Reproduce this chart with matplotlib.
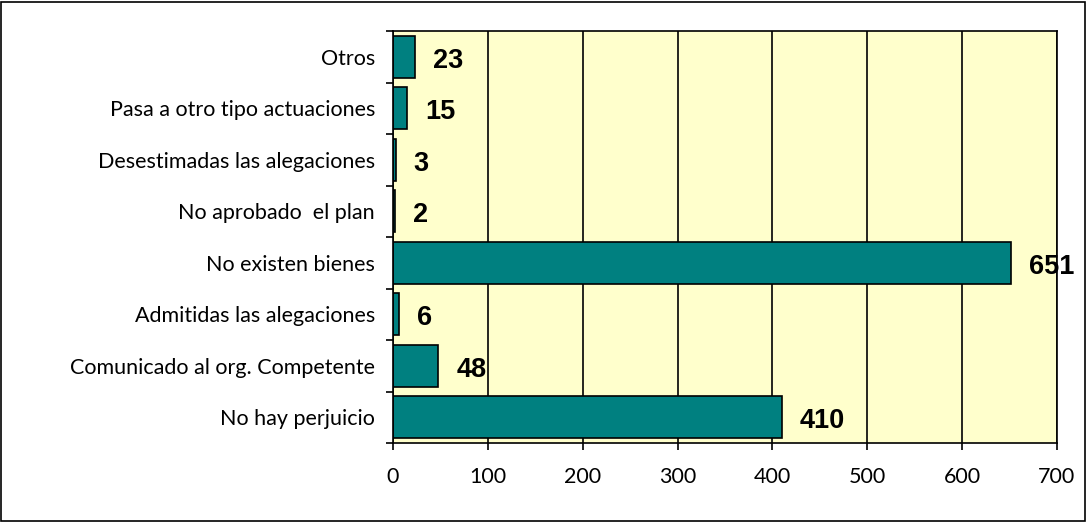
import matplotlib.pyplot as plt
import numpy as np

categories = ["No hay perjuicio", "Comunicado al org. Competente", "Admitidas las alegaciones",
              "No existen bienes", "No aprobado  el plan", "Desestimadas las alegaciones",
              "Pasa a otro tipo actuaciones", "Otros"]
values = [410, 48, 6, 651, 2, 3, 15, 23]
xticks = [0, 100, 200, 300, 400, 500, 600, 700]

fig = plt.figure(figsize=(10.87, 5.22), dpi=100)
fig.patches.append(plt.Rectangle((0.001, 0.002), 0.997, 0.995, transform=fig.transFigure,
                                 fill=False, edgecolor="black", linewidth=1.2))
ax = fig.add_axes([0.3615, 0.1513, 0.6109, 0.7893])
ax.set_facecolor("#FFFFCC")

y = np.arange(len(categories))
ax.barh(y, values, height=0.82, color="#008080", edgecolor="black", linewidth=1.2, zorder=3)
for yi, v in zip(y, values):
    ax.text(v + 19, yi - 0.08, str(v), fontsize=19.5, fontweight="bold",
            family="Liberation Sans", va="center", ha="left", zorder=4)

ax.set_xlim(0, 700)
ax.set_ylim(-0.5, len(categories) - 0.5)
ax.set_xticks(xticks)
ax.set_xticklabels([str(t) for t in xticks], fontsize=15.5, family="Lato")
ax.set_yticks(y)
ax.set_yticklabels(categories, fontsize=15.5, family="Lato")
ax.set_yticks(np.arange(-0.5, len(categories)), minor=True)
ax.tick_params(axis="y", which="major", length=0, pad=13)
ax.tick_params(axis="y", which="minor", length=5, width=1.2, direction="out")
ax.tick_params(axis="x", length=5, width=1.2, pad=12)
ax.grid(axis="x", color="black", linewidth=1.2, zorder=1)
for s in ax.spines.values():
    s.set_linewidth(1.2)
    s.set_zorder(5)

fig.savefig("out.png", dpi=100)
